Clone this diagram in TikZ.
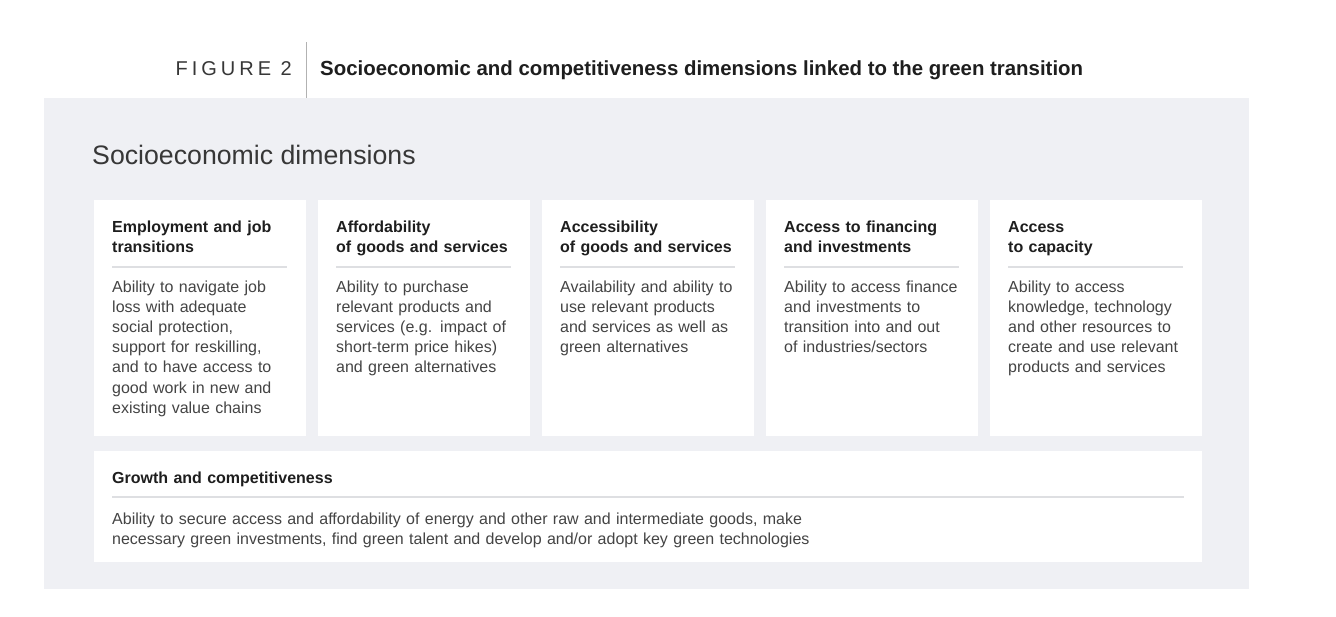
\documentclass[tikz,border=0pt]{standalone}
\usepackage{fontspec}
\setmainfont{Liberation Sans}
\newfontfamily\figfont[LetterSpace=20]{Liberation Sans}
\usetikzlibrary{calc}
\definecolor{panelgray}{RGB}{239,240,244}
\definecolor{sepgray}{RGB}{222,223,226}
\definecolor{titlecol}{RGB}{30,30,30}
\definecolor{bodycol}{RGB}{68,68,68}
\definecolor{headcol}{RGB}{55,55,55}
\tikzset{
  card/.style={fill=white, draw=none, anchor=north west, minimum width=212pt, minimum height=236pt, inner sep=0pt},
  ttl/.style={anchor=base west, inner sep=0pt, text width=190pt, align=left, text=titlecol,
    font=\fontsize{16}{20}\selectfont\bfseries},
  bodytxt/.style={anchor=base west, inner sep=0pt, text width=190pt, align=left, text=bodycol,
    font=\fontsize{16}{20.2}\selectfont},
  sepline/.style={draw=sepgray, line width=1.2pt}
}
\begin{document}
\begin{tikzpicture}[x=1pt,y=-1pt]
\useasboundingbox (0,0) rectangle (1336,616);
\fill[white] (0,0) rectangle (1336,616);
% header
\node[anchor=base east, inner sep=0pt, text=headcol, font=\figfont\fontsize{20}{22}\selectfont] (fig) at (292,75) {FIGURE 2};
\node[anchor=base west, inner sep=0pt, text=titlecol, font=\fontsize{20.4}{22}\selectfont\bfseries] (ftitle) at (320,75) {Socioeconomic and competitiveness dimensions linked to the green transition};
% panel
\node[fill=panelgray, anchor=north west, minimum width=1205pt, minimum height=491pt, inner sep=0pt] (panel) at (44,98) {};
\draw[draw=black!30, line width=1pt] (306,42) -- (306,98);
\node[anchor=base west, inner sep=0pt, text=headcol, font=\fontsize{26.7}{30}\selectfont] (head) at (92,164) {Socioeconomic dimensions};
% cards
\node[card] (b1) at (94,200) {};
\node[card] (b2) at (318,200) {};
\node[card] (b3) at (542,200) {};
\node[card] (b4) at (766,200) {};
\node[card] (b5) at (990,200) {};
\foreach \b in {b1,b2,b3,b4,b5}{
  \draw[sepline] ($(\b.north west)+(18,67)$) -- ($(\b.north east)+(-19,67)$);
}
\node[ttl] (t1) at ($(b1.north west)+(18,32)$) {Employment and job\\transitions};
\node[ttl] (t2) at ($(b2.north west)+(18,32)$) {Affordability\\of goods and services};
\node[ttl] (t3) at ($(b3.north west)+(18,32)$) {Accessibility\\of goods and services};
\node[ttl] (t4) at ($(b4.north west)+(18,32)$) {Access to financing\\and investments};
\node[ttl] (t5) at ($(b5.north west)+(18,32)$) {Access\\to capacity};
\node[bodytxt] (d1) at ($(b1.north west)+(18,92)$) {Ability to navigate job\\loss with adequate\\social protection,\\support for reskilling,\\and to have access to\\good work in new and\\existing value chains};
\node[bodytxt] (d2) at ($(b2.north west)+(18,92)$) {Ability to purchase\\relevant products and\\services (e.g. impact of\\short-term price hikes)\\and green alternatives};
\node[bodytxt] (d3) at ($(b3.north west)+(18,92)$) {Availability and ability to\\use relevant products\\and services as well as\\green alternatives};
\node[bodytxt] (d4) at ($(b4.north west)+(18,92)$) {Ability to access finance\\and investments to\\transition into and out\\of industries/sectors};
\node[bodytxt] (d5) at ($(b5.north west)+(18,92)$) {Ability to access\\knowledge, technology\\and other resources to\\create and use relevant\\products and services};
% bottom card
\node[card, minimum width=1108pt, minimum height=111pt] (g) at (94,451) {};
\draw[sepline] ($(g.north west)+(18,46)$) -- ($(g.north east)+(-18,46)$);
\node[ttl, text width=800pt] (gt) at ($(g.north west)+(18,32)$) {Growth and competitiveness};
\node[bodytxt, text width=1000pt] (gd) at ($(g.north west)+(18,73)$) {Ability to secure access and affordability of energy and other raw and intermediate goods, make\\necessary green investments, find green talent and develop and/or adopt key green technologies};
\end{tikzpicture}
\end{document}
